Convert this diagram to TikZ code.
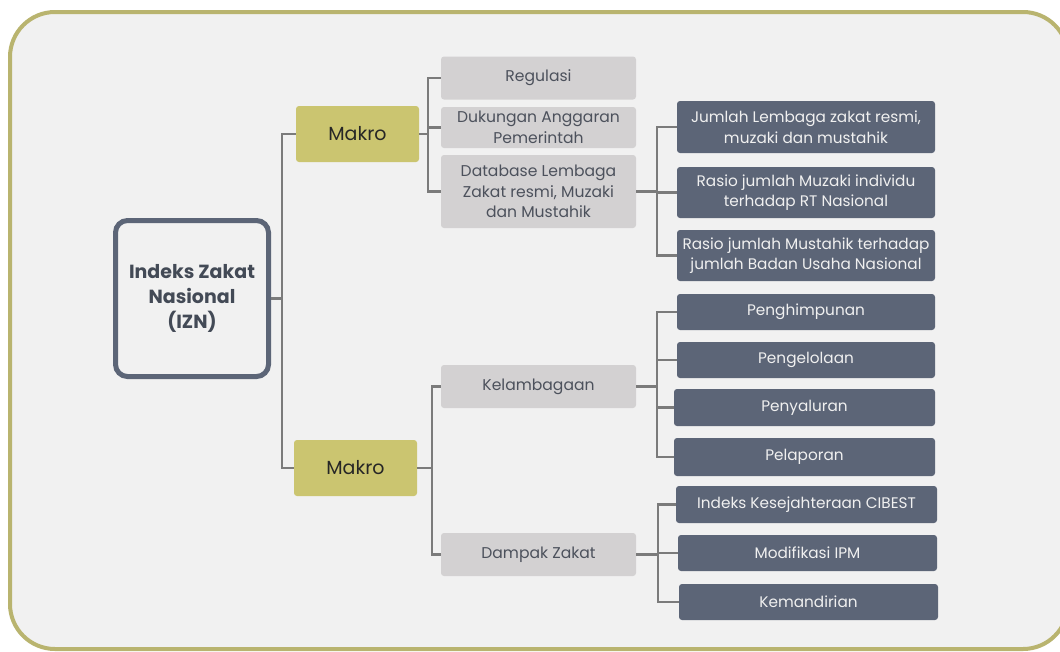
\documentclass[tikz,border=0pt]{standalone}
\usepackage{fontspec}
\setmainfont{Poppins}
\usetikzlibrary{positioning}

\definecolor{bingkai}{HTML}{B9B46F}
\definecolor{latar}{HTML}{F1F1F1}
\definecolor{kuning}{HTML}{CBC570}
\definecolor{abu}{HTML}{D3D1D2}
\definecolor{gelap}{HTML}{5C6577}
\definecolor{garisabu}{HTML}{7B7B7B}
\definecolor{teksgelap}{HTML}{434A56}
\definecolor{teksabu}{HTML}{4C515C}

\begin{document}
\begin{tikzpicture}[x=1pt,y=-1pt,
    kotakabu/.style={fill=abu, text=teksabu, rounded corners=3pt, minimum width=195pt,
        align=center, inner sep=0pt, font=\fontsize{15.6}{20.5}\selectfont},
    kotakgelap/.style={fill=gelap, text=white!94!black, rounded corners=3pt, minimum width=258pt,
        align=center, inner sep=0pt, font=\fontsize{15.3}{20.5}\selectfont},
    makro/.style={fill=kuning, text=black!85, rounded corners=3pt, minimum width=123pt,
        minimum height=56pt, font=\fontsize{19}{22}\selectfont},
    garis/.style={draw=garisabu, line width=2.5pt}]
    \useasboundingbox (0,0) rectangle (1060,651);
    \clip (0,0) rectangle (1060,651);
    \fill[white] (0,0) rectangle (1060,651);
    %% bingkai luar
    \draw[bingkai, fill=latar, line width=4pt, rounded corners=45pt] (10,12) rectangle (1068,649);

    %% akar
    \node[draw=gelap, line width=5pt, rounded corners=12pt, minimum width=153pt, minimum height=156pt,
        align=center, text=teksgelap, font=\bfseries\fontsize{19}{25}\selectfont] (izn) at (192,298.5)
        {Indeks Zakat\\Nasional\\(IZN)};
    \node[makro] (mk1) at (357.5,134) {Makro};
    \node[makro] (mk2) at (355.5,468) {Makro};

    %% cabang makro atas
    \node[kotakabu, minimum height=43pt] (reg) at (538.5,78) {Regulasi};
    \node[kotakabu, minimum height=41pt] (dag) at (538.5,127.5) {Dukungan Anggaran\\Pemerintah};
    \node[kotakabu, minimum height=73pt] (dbl) at (538.5,191.5) {Database Lembaga\\Zakat resmi, Muzaki\\dan Mustahik};
    \node[kotakgelap, minimum height=52pt] (jml) at (806,127) {Jumlah Lembaga zakat resmi,\\muzaki dan mustahik};
    \node[kotakgelap, minimum height=51pt] (rs1) at (806,192.5) {Rasio jumlah Muzaki individu\\terhadap RT Nasional};
    \node[kotakgelap, minimum height=51pt] (rs2) at (806,255.5) {Rasio jumlah Mustahik terhadap\\jumlah Badan Usaha Nasional};

    %% cabang makro bawah
    \node[kotakabu, minimum height=43pt] (kel) at (538.5,386.5) {Kelambagaan};
    \node[kotakabu, minimum height=43pt] (dmp) at (538.5,554.5) {Dampak Zakat};
    \node[kotakgelap, minimum height=36pt] (phm) at (806,312) {Penghimpunan};
    \node[kotakgelap, minimum height=36pt] (pgl) at (806,360) {Pengelolaan};
    \node[kotakgelap, minimum height=37pt, minimum width=261pt] (pys) at (804.5,407.5) {Penyaluran};
    \node[kotakgelap, minimum height=38pt, minimum width=261pt] (plp) at (804.5,457) {Pelaporan};
    \node[kotakgelap, minimum height=37pt, minimum width=261pt] (cib) at (806.5,504.5) {Indeks Kesejahteraan CIBEST};
    \node[kotakgelap, minimum height=36pt, minimum width=259pt] (ipm) at (807.5,553) {Modifikasi IPM};
    \node[kotakgelap, minimum height=36pt, minimum width=259pt] (mdr) at (808.5,602) {Kemandirian};

    %% garis penghubung
    \foreach \t in {mk1,mk2}
        \draw[garis] (izn.east) -- ++(11,0) |- (\t.west);
    \foreach \t in {reg,dag,dbl}
        \draw[garis] (mk1.east) -- ++(9,0) |- (\t.west);
    \foreach \t in {kel,dmp}
        \draw[garis] (mk2.east) -- ++(15,0) |- (\t.west);
    \foreach \t in {jml,rs1,rs2}
        \draw[garis] (dbl.east) -- ++(21,0) |- (\t.west);
    \foreach \t in {phm,pgl,pys,plp}
        \draw[garis] (kel.east) -- (657,386.5) |- (\t.west);
    \foreach \t in {cib,ipm,mdr}
        \draw[garis] (dmp.east) -- (658,554.5) |- (\t.west);
\end{tikzpicture}
\end{document}
